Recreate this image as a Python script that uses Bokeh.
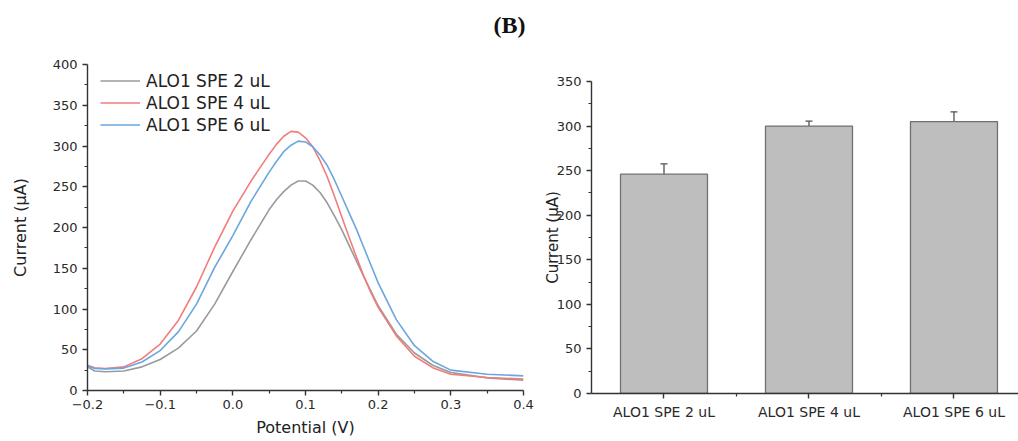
from bokeh.plotting import figure
from bokeh.layouts import row
from bokeh.models import (Range1d, FixedTicker, Legend, LegendItem, Whisker,
                          ColumnDataSource, TeeHead, Title)
from bokeh.embed import file_html
from bokeh.resources import INLINE

# ---------------- data ----------------
potential = [-0.2, -0.19, -0.175, -0.15, -0.125, -0.1, -0.075, -0.05, -0.025, 0.0,
             0.025, 0.05, 0.06, 0.07, 0.08, 0.09, 0.1, 0.11, 0.12, 0.13,
             0.14, 0.15, 0.16, 0.17, 0.18, 0.19, 0.2, 0.225, 0.25, 0.275,
             0.3, 0.35, 0.4]
current_2uL = [29, 24, 23, 24, 29, 38, 52, 73, 106, 146,
               185, 222, 234, 244, 252, 257, 257, 252, 243, 230,
               214, 197, 178, 159, 140, 122, 104, 69, 46, 31,
               22, 15.5, 12.5]
current_4uL = [31, 28, 27, 29, 39, 57, 86, 127, 176, 220,
               257, 290, 302, 312, 318, 317, 310, 299, 282, 262,
               238, 213, 188, 164, 141, 120, 102, 67, 42, 28,
               20, 16, 14]
current_6uL = [30, 27, 26.5, 27.5, 35, 49, 72, 106, 151, 190,
               232, 268, 281, 293, 301, 306, 305, 299, 289, 276,
               258, 238, 218, 198, 176, 154, 132, 87, 55, 36,
               25, 20, 18]
series_names = ["ALO1 SPE 2 uL", "ALO1 SPE 4 uL", "ALO1 SPE 6 uL"]
series_colors = ["#9a9a9a", "#f27c7c", "#6aa6e0"]

bar_categories = ["ALO1 SPE 2 uL", "ALO1 SPE 4 uL", "ALO1 SPE 6 uL"]
bar_positions = [1, 2, 3]
bar_means = [246, 300, 305]
bar_errors = [11.5, 5.5, 11]

left_x_ticks = [-0.2, -0.1, 0, 0.1, 0.2, 0.3, 0.4]
left_x_labels = ["\u22120.2", "\u22120.1", "0.0", "0.1", "0.2", "0.3", "0.4"]
left_y_ticks = [0, 50, 100, 150, 200, 250, 300, 350, 400]
right_y_ticks = [0, 50, 100, 150, 200, 250, 300, 350]
panel_label = "(B)"

FONT = "DejaVu Sans"
AXC = "#333333"


def style_axes(p):
    p.outline_line_color = None
    p.xgrid.grid_line_color = None
    p.ygrid.grid_line_color = None
    if "frame_align" in p.properties():
        p.frame_align = False
    for ax in (p.xaxis[0], p.yaxis[0]):
        ax.axis_line_color = AXC
        ax.axis_line_width = 1.4
        ax.major_tick_line_color = AXC
        ax.minor_tick_line_color = AXC
        ax.major_tick_line_width = 1.4
        ax.minor_tick_line_width = 1.2
        ax.major_tick_out = 5
        ax.major_tick_in = 0
        ax.minor_tick_out = 3
        ax.minor_tick_in = 0
        ax.major_label_text_font = FONT
        ax.major_label_text_color = "#2a2a2a"
        ax.axis_label_text_font = FONT
        ax.axis_label_text_font_style = "normal"
        ax.axis_label_text_color = "#222222"


# ---------------- left: curves ----------------
p1 = figure(width=540, height=441, x_range=Range1d(-0.2, 0.4), y_range=Range1d(0, 400),
            output_backend="svg", toolbar_location=None, title=panel_label,
            min_border_left=87, min_border_right=17, min_border_top=64, min_border_bottom=51)
p1.title.align = "right"
p1.title.offset = -2
p1.title.text_font = "Liberation Serif"
p1.title.text_font_style = "bold"
p1.title.text_font_size = "24px"
p1.title.text_color = "#111111"
p1.title.standoff = 0
# empty spacer panel that lifts the panel label away from the frame
p1.add_layout(Title(text="\u00a0", text_font_size="18px", standoff=5), "above")
style_axes(p1)
p1.xaxis.ticker = FixedTicker(ticks=left_x_ticks,
                              minor_ticks=[-0.15, -0.05, 0.05, 0.15, 0.25, 0.35])
p1.xaxis.major_label_overrides = {t: l for t, l in zip(left_x_ticks, left_x_labels)}
p1.yaxis.ticker = FixedTicker(ticks=left_y_ticks,
                              minor_ticks=[25, 75, 125, 175, 225, 275, 325, 375])
p1.xaxis.major_label_text_font_size = "13px"
p1.yaxis.major_label_text_font_size = "13px"
p1.xaxis.axis_label = "Potential (V)"
p1.yaxis.axis_label = "Current (\u03bcA)"
p1.xaxis.axis_label_text_font_size = "16px"
p1.yaxis.axis_label_text_font_size = "16px"
p1.xaxis.major_label_standoff = 4
p1.xaxis.axis_label_standoff = 6
p1.yaxis.axis_label_standoff = 20

items = []
for name, col, ys in zip(series_names, series_colors, [current_2uL, current_4uL, current_6uL]):
    r = p1.line(potential, ys, line_color=col, line_width=1.6)
    items.append(LegendItem(label=name, renderers=[r]))

legend = Legend(items=items, location=(13, 255), margin=0, padding=2,
                glyph_width=40, glyph_height=21, label_height=21, spacing=1,
                label_standoff=6,
                label_text_font=FONT, label_text_font_size="17px",
                label_text_color="#222222",
                background_fill_alpha=0, border_line_color=None)
p1.add_layout(legend, "center")

# ---------------- right: bars ----------------
p2 = figure(width=478, height=441, x_range=Range1d(0.5, 3.445), y_range=Range1d(0, 350),
            output_backend="svg", toolbar_location=None,
            min_border_left=48, min_border_right=0, min_border_top=81, min_border_bottom=48)
style_axes(p2)
p2.xaxis.ticker = FixedTicker(ticks=bar_positions, minor_ticks=[1.5, 2.5])
p2.xaxis.major_label_overrides = {pos: c for pos, c in zip(bar_positions, bar_categories)}
p2.yaxis.ticker = FixedTicker(ticks=right_y_ticks,
                              minor_ticks=[25, 75, 125, 175, 225, 275, 325])
p2.xaxis.major_label_text_font_size = "14px"
p2.yaxis.major_label_text_font_size = "13px"
p2.yaxis.axis_label = "Current (\u03bcA)"
p2.yaxis.axis_label_text_font_size = "15px"
p2.yaxis.axis_label_standoff = -8

src = ColumnDataSource(dict(
    x=bar_positions, top=bar_means,
    upper=[m + e for m, e in zip(bar_means, bar_errors)],
    lower=[m - e for m, e in zip(bar_means, bar_errors)],
))
p2.vbar(x="x", top="top", width=0.6, source=src, fill_color="#bebebe",
        line_color="#707070", line_width=1.3)
whisk = Whisker(base="x", upper="upper", lower="lower", source=src,
                line_color="#505050", line_width=1.3,
                upper_head=TeeHead(size=7, line_color="#505050", line_width=1.3),
                lower_head=TeeHead(size=7, line_color="#505050", line_width=1.3))
p2.add_layout(whisk)

layout = row(p1, p2)
open("out.html", "w").write(file_html(layout, INLINE))
